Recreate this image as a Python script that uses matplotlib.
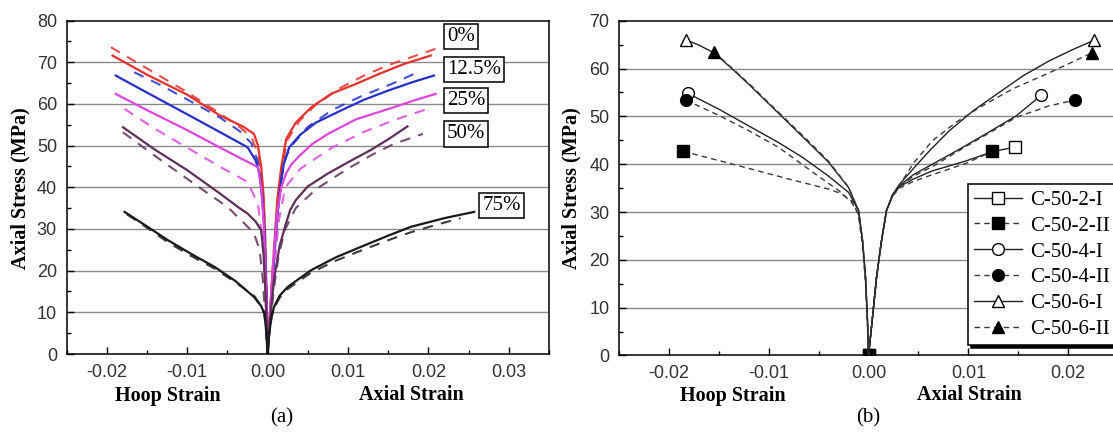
import matplotlib

matplotlib.use("Agg")
import matplotlib.pyplot as plt
from matplotlib.ticker import MultipleLocator, FormatStrFormatter

# (a) stress-strain curves by replacement ratio; hoop strain on the negative side
PCT_LABELS = ["0%", "12.5%", "25%", "50%", "75%"]
PCT_COLORS = ["#e2332c", "#2630c8", "#dc46dc", "#5e2f58", "#1a1a1a"]
PCT_LABEL_X = [0.0223, 0.0223, 0.0223, 0.0223, 0.0267]
PCT_LABEL_Y = [76.1, 68.3, 60.8, 52.8, 35.7]

P0_SOLID_X = [-0.0193, -0.0150, -0.0100, -0.0060, -0.0030, -0.0017, -0.0012, -0.0008, -0.0005,
              -0.0003, -0.00015, 0.0, 0.0003, 0.0007, 0.0012, 0.0017, 0.0023, 0.0035, 0.0055,
              0.0080, 0.0110, 0.0140, 0.0170, 0.0203]
P0_SOLID_Y = [71.6, 67.0, 62.2, 57.3, 54.5, 52.8, 50.0, 44.9, 38.0, 28.0, 16.0, 0.0, 10.0, 22.0,
              36.9, 44.9, 51.5, 55.5, 59.3, 62.5, 64.8, 67.3, 69.6, 71.6]
P0_DASH_X = [-0.0195, -0.0150, -0.0100, -0.0060, -0.0035, -0.0020, -0.0012, -0.0007, -0.0004,
             -0.0002, 0.0, 0.0004, 0.0008, 0.0013, 0.0018, 0.0025, 0.0040, 0.0060, 0.0090,
             0.0120, 0.0150, 0.0180, 0.0215]
P0_DASH_Y = [73.6, 68.5, 62.8, 57.8, 54.5, 52.0, 48.0, 42.0, 33.0, 20.0, 0.0, 13.0, 26.0, 37.0,
             45.0, 51.5, 56.0, 59.8, 63.8, 66.8, 69.3, 71.3, 73.6]

P12_SOLID_X = [-0.0189, -0.0150, -0.0100, -0.0060, -0.0025, -0.0015, -0.0010, -0.0007, -0.0004,
               -0.0002, 0.0, 0.0003, 0.0007, 0.0012, 0.0017, 0.0020, 0.0027, 0.0040, 0.0060,
               0.0091, 0.0120, 0.0150, 0.0180, 0.0207]
P12_SOLID_Y = [66.8, 62.7, 57.5, 53.3, 49.6, 46.5, 43.3, 38.0, 30.0, 18.0, 0.0, 9.0, 20.0, 33.0,
               41.6, 45.5, 49.6, 52.5, 55.5, 58.4, 61.0, 63.2, 65.2, 66.8]
P12_DASH_X = [-0.0166, -0.0130, -0.0090, -0.0060, -0.0035, -0.0020, -0.0012, -0.0007, -0.0004,
              -0.0002, 0.0, 0.0003, 0.0007, 0.0012, 0.0017, 0.0022, 0.0030, 0.0050, 0.0080,
              0.0116, 0.0157, 0.0187]
P12_DASH_Y = [67.6, 64.2, 60.0, 56.8, 53.5, 50.5, 46.0, 39.0, 30.0, 18.0, 0.0, 9.0, 20.0, 33.0,
              42.0, 47.0, 50.0, 54.5, 58.5, 61.8, 65.0, 67.6]

P25_SOLID_X = [-0.0189, -0.0150, -0.0100, -0.0060, -0.0030, -0.0012, -0.0008, -0.0005, -0.0003,
               -0.00015, 0.0, 0.0003, 0.0007, 0.0012, 0.0017, 0.0023, 0.0030, 0.0040, 0.0055,
               0.0075, 0.0110, 0.0157, 0.0185, 0.0209]
P25_SOLID_Y = [62.4, 58.5, 53.7, 49.6, 46.6, 44.8, 40.0, 32.0, 22.0, 12.0, 0.0, 10.0, 22.0, 34.0,
               40.0, 43.3, 45.6, 47.6, 50.3, 52.8, 56.3, 59.2, 61.0, 62.4]
P25_DASH_X = [-0.0178, -0.0140, -0.0100, -0.0060, -0.0025, -0.0012, -0.0007, -0.0004, -0.0002,
              0.0, 0.0003, 0.0008, 0.0014, 0.0022, 0.0041, 0.0080, 0.0120, 0.0160, 0.0199]
P25_DASH_Y = [58.8, 54.0, 49.5, 45.0, 41.3, 36.0, 28.0, 20.0, 10.0, 0.0, 8.0, 20.0, 32.0, 40.0,
              44.5, 49.5, 53.3, 56.3, 58.8]

P50_SOLID_X = [-0.0180, -0.0140, -0.0100, -0.0060, -0.0035, -0.0025, -0.0015, -0.0008, -0.0005,
               -0.0003, -0.0001, 0.0, 0.0003, 0.0008, 0.0015, 0.0023, 0.0028, 0.0035, 0.0050,
               0.0075, 0.0100, 0.0128, 0.0150, 0.0174]
P50_SOLID_Y = [54.4, 49.0, 44.1, 38.6, 35.0, 33.7, 31.8, 29.7, 24.0, 16.0, 7.0, 0.0, 8.0, 18.0,
               26.0, 31.4, 34.5, 36.9, 40.2, 43.3, 46.0, 48.9, 51.5, 54.6]
P50_DASH_X = [-0.0180, -0.0140, -0.0083, -0.0050, -0.0033, -0.0017, -0.0010, -0.0006, -0.0003,
              0.0, 0.0003, 0.0008, 0.0014, 0.0022, 0.0035, 0.0060, 0.0100, 0.0130, 0.0157, 0.0193]
P50_DASH_Y = [53.2, 47.5, 39.7, 35.3, 32.1, 29.0, 25.0, 18.0, 9.0, 0.0, 7.0, 16.0, 24.0, 30.0,
              35.0, 39.5, 44.5, 47.8, 50.4, 52.8]

P75_SOLID_X = [-0.0178, -0.0150, -0.0124, -0.0095, -0.0066, -0.0040, -0.0017, -0.0008, -0.0004,
               -0.0002, 0.0, 0.0002, 0.0005, 0.0008, 0.0015, 0.0025, 0.0054, 0.0085, 0.0116,
               0.0150, 0.0178, 0.0220, 0.0257]
P75_SOLID_Y = [34.1, 30.6, 27.3, 24.0, 20.9, 17.5, 13.7, 11.5, 9.7, 6.0, 0.0, 5.0, 9.0, 11.3,
               14.0, 16.1, 20.1, 23.2, 25.7, 28.4, 30.5, 32.6, 34.1]
P75_DASH_X = [-0.0175, -0.0150, -0.0124, -0.0095, -0.0066, -0.0040, -0.0017, -0.0008, -0.0004,
              -0.0002, 0.0, 0.0002, 0.0005, 0.0008, 0.0015, 0.0025, 0.0054, 0.0085, 0.0116,
              0.0150, 0.0178, 0.0210, 0.0240]
P75_DASH_Y = [33.5, 30.3, 26.8, 23.5, 20.5, 17.2, 14.0, 11.5, 9.5, 6.0, 0.0, 5.0, 9.0, 11.0,
              13.5, 15.6, 19.5, 22.4, 24.8, 27.3, 29.2, 31.0, 32.6]

# (b) C-50 specimens, series I solid with open markers, series II dashed with filled markers
SPEC_NAMES = ["C-50-2-I", "C-50-2-II", "C-50-4-I", "C-50-4-II", "C-50-6-I", "C-50-6-II"]
SPEC_MARKERS = ["s", "s", "o", "o", "^", "^"]

C2I_X = [0.0, 0.0004, 0.0008, 0.0013, 0.0018, 0.0024, 0.0031, 0.0045, 0.0064, 0.0098, 0.0124,
         0.0147]
C2I_Y = [0.0, 8.0, 16.3, 24.0, 30.3, 33.4, 35.3, 36.9, 38.6, 40.7, 42.6, 43.6]
C2II_X = [-0.0186, -0.0136, -0.0080, -0.0040, -0.0027, -0.0015, -0.0010, -0.0006, -0.0003,
          -0.0001, 0.0, 0.0004, 0.0008, 0.0013, 0.0018, 0.0024, 0.0031, 0.0045, 0.0064, 0.0098,
          0.0124]
C2II_Y = [42.7, 40.0, 36.9, 34.8, 33.8, 32.0, 29.0, 23.0, 15.0, 6.0, 0.0, 8.0, 16.3, 24.0, 30.3,
          33.3, 35.0, 36.4, 37.8, 40.2, 42.7]
C4I_X = [-0.0181, -0.0150, -0.0120, -0.0090, -0.0066, -0.0040, -0.0020, -0.0010, -0.0006,
         -0.0003, -0.0001, 0.0, 0.0004, 0.0008, 0.0013, 0.0018, 0.0024, 0.0031, 0.0045, 0.0064,
         0.0090, 0.0114, 0.0148, 0.0173]
C4I_Y = [54.8, 51.5, 48.0, 44.5, 41.4, 37.5, 34.1, 30.3, 24.0, 16.3, 7.0, 0.0, 8.0, 16.3, 24.0,
         30.3, 33.5, 35.5, 37.8, 40.0, 43.0, 45.9, 50.1, 54.4]
C4II_X = [-0.0183, -0.0150, -0.0120, -0.0090, -0.0053, -0.0030, -0.0017, -0.0010, -0.0006,
          -0.0003, -0.0001, 0.0, 0.0004, 0.0008, 0.0013, 0.0018, 0.0024, 0.0031, 0.0045, 0.0064,
          0.0100, 0.0148, 0.0181, 0.0207]
C4II_Y = [53.4, 50.2, 47.0, 43.5, 37.9, 34.5, 32.0, 29.5, 24.0, 16.0, 7.0, 0.0, 8.0, 16.3, 24.0,
          30.3, 33.4, 35.3, 37.5, 39.5, 44.0, 49.8, 52.2, 53.4]
C6I_X = [-0.0183, -0.0170, -0.0155, -0.0138, -0.0119, -0.0086, -0.0060, -0.0040, -0.0020,
         -0.0010, -0.0006, -0.0003, -0.0001, 0.0, 0.0004, 0.0008, 0.0013, 0.0018, 0.0024,
         0.0031, 0.0048, 0.0062, 0.0081, 0.0105, 0.0131, 0.0155, 0.0181, 0.0205, 0.0226]
C6I_Y = [66.0, 64.9, 63.3, 60.2, 56.5, 49.8, 44.5, 40.4, 35.1, 30.3, 24.0, 16.3, 7.0, 0.0, 8.0,
         16.3, 24.0, 30.3, 33.6, 35.8, 39.8, 43.0, 47.0, 51.2, 55.0, 58.5, 61.6, 64.0, 65.9]
C6II_X = [-0.0155, -0.0138, -0.0119, -0.0086, -0.0060, -0.0040, -0.0020, -0.0010, -0.0006,
          -0.0003, -0.0001, 0.0, 0.0004, 0.0008, 0.0013, 0.0018, 0.0024, 0.0031, 0.0045, 0.0064,
          0.0088, 0.0114, 0.0145, 0.0181, 0.0224]
C6II_Y = [63.5, 60.3, 56.7, 50.0, 44.8, 40.6, 35.2, 30.3, 24.0, 16.3, 7.0, 0.0, 8.0, 16.3, 24.0,
          30.3, 33.5, 35.6, 40.2, 44.9, 48.8, 52.2, 55.8, 59.1, 63.3]

SERIF = "Liberation Serif"
SANS = "Liberation Sans"


def style_axes(ax, ymax, xmin, xmax):
    ax.set_xlim(xmin, xmax)
    ax.set_ylim(0, ymax)
    ax.xaxis.set_major_locator(MultipleLocator(0.01))
    ax.xaxis.set_minor_locator(MultipleLocator(0.005))
    ax.yaxis.set_major_locator(MultipleLocator(10))
    ax.yaxis.set_minor_locator(MultipleLocator(5))
    ax.xaxis.set_major_formatter(FormatStrFormatter("%.2f"))
    ax.tick_params(which="both", direction="in", top=False, right=False,
                   labelsize=13, labelcolor="#333333", width=1.0)
    ax.tick_params(which="major", length=5, pad=7)
    ax.tick_params(which="minor", length=3)
    for lab in ax.get_xticklabels() + ax.get_yticklabels():
        lab.set_fontfamily(SANS)
    for y in range(10, ymax, 10):
        ax.axhline(y, color="#8a8a8a", lw=1.0, zorder=0)
    for sp in ax.spines.values():
        sp.set_linewidth(1.1)


fig = plt.figure(figsize=(11.13, 4.34), dpi=100)
ax_a = fig.add_axes([0.0599, 0.1843, 0.4333, 0.7684])
ax_b = fig.add_axes([0.5562, 0.1809, 0.4483, 0.7714])

# panel (a)
solid_a = [(P0_SOLID_X, P0_SOLID_Y), (P12_SOLID_X, P12_SOLID_Y), (P25_SOLID_X, P25_SOLID_Y),
           (P50_SOLID_X, P50_SOLID_Y), (P75_SOLID_X, P75_SOLID_Y)]
dash_a = [(P0_DASH_X, P0_DASH_Y), (P12_DASH_X, P12_DASH_Y), (P25_DASH_X, P25_DASH_Y),
          (P50_DASH_X, P50_DASH_Y), (P75_DASH_X, P75_DASH_Y)]
for (sx, sy), (dx, dy), color in zip(solid_a, dash_a, PCT_COLORS):
    ax_a.plot(dx, dy, color=color, lw=1.5, dashes=(5.0, 4.0), alpha=0.85)
    ax_a.plot(sx, sy, color=color, lw=1.6)

for label, x, y in zip(PCT_LABELS, PCT_LABEL_X, PCT_LABEL_Y):
    ax_a.text(x, y, label, family=SERIF, fontsize=15, ha="left", va="center",
              clip_on=False, zorder=5,
              bbox=dict(boxstyle="square,pad=0.15", fc="white", ec="black", lw=1.1))

style_axes(ax_a, 80, -0.025, 0.035)

# panel (b)
spec_data = [(C2I_X, C2I_Y), (C2II_X, C2II_Y), (C4I_X, C4I_Y), (C4II_X, C4II_Y),
             (C6I_X, C6I_Y), (C6II_X, C6II_Y)]
for i, ((x, y), name, marker) in enumerate(zip(spec_data, SPEC_NAMES, SPEC_MARKERS)):
    filled = i % 2 == 1
    ends = [0, len(x) - 1]
    if name == "C-50-2-II":
        ends.append(x.index(0.0))
    ax_b.plot(x, y, color="#3a3a3a" if filled else "#222222", lw=1.0,
              dashes=(4.0, 3.0) if filled else (None, None),
              marker=marker, markevery=ends, markersize=8.5,
              markerfacecolor="black" if filled else "white",
              markeredgecolor="black", markeredgewidth=1.0, label=name,
              zorder=3 + i)

style_axes(ax_b, 70, -0.025, 0.025)

leg = ax_b.legend(loc="upper left", bbox_to_anchor=(0.699, 0.512), borderaxespad=0,
                  prop={"family": SERIF, "size": 15}, frameon=True, fancybox=False,
                  shadow={"color": "black", "alpha": 1.0}, handlelength=2.3,
                  handletextpad=0.4, labelspacing=0.3, borderpad=0.3)
leg.get_frame().set_edgecolor("black")
leg.get_frame().set_linewidth(1.1)
leg.set_zorder(10)

# axis captions
label_kw = dict(family=SERIF, fontweight="bold", fontsize=14.5, ha="center", va="center")
fig.text(0.018, 0.567, "Axial Stress (MPa)", rotation=90, **label_kw)
fig.text(0.5136, 0.567, "Axial Stress (MPa)", rotation=90, **label_kw)
fig.text(0.151, 0.088, "Hoop Strain", **label_kw)
fig.text(0.370, 0.090, "Axial Strain", **label_kw)
fig.text(0.6586, 0.088, "Hoop Strain", **label_kw)
fig.text(0.8707, 0.090, "Axial Strain", **label_kw)
fig.text(0.2534, 0.037, "(a)", family=SERIF, fontsize=15, ha="center", va="center")
fig.text(0.7799, 0.037, "(b)", family=SERIF, fontsize=15, ha="center", va="center")

fig.savefig("out.png", dpi=100)
